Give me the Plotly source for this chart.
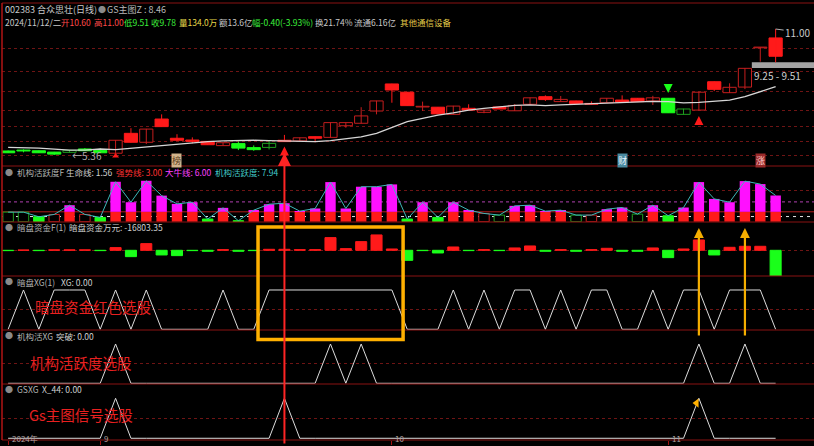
import plotly.graph_objects as go
from plotly.subplots import make_subplots

FONT = "Noto Sans CJK SC"

# ---- values: 002383 daily, 51 bars ----
bars = list(range(51))

opens = [5.54, 5.58, 5.55, 5.49, 5.48, 5.63, 5.57, 5.44, 6.33, 5.93,
         6.97, 6.11, 6.03, 5.97, 5.78, 5.87, 5.69, 5.70, 6.02, 5.99,
         6.18, 6.15, 6.67, 6.78, 7.33, 8.54, 8.17, 7.51, 7.50, 7.18,
         7.45, 7.27, 7.51, 7.34, 7.63, 7.97, 7.75, 7.78, 7.67, 7.70,
         7.82, 7.90, 7.78, 7.90, 7.18, 7.37, 8.64, 8.15, 8.40, 10.16,
         10.60]
highs = [5.56, 5.61, 5.56, 5.50, 5.58, 5.67, 5.66, 6.03, 6.56, 6.53,
         7.18, 6.29, 6.15, 5.98, 5.92, 5.96, 5.79, 5.99, 6.26, 6.14,
         6.19, 6.82, 6.82, 7.50, 7.79, 8.55, 8.18, 7.75, 7.51, 7.56,
         7.63, 7.38, 7.52, 7.64, 7.93, 8.03, 8.00, 7.79, 7.76, 7.91,
         8.03, 7.91, 8.01, 7.91, 7.43, 8.18, 8.65, 8.57, 9.25, 10.18,
         11.00]
lows = [5.45, 5.48, 5.45, 5.36, 5.47, 5.54, 5.45, 5.43, 5.92, 5.85,
        6.62, 5.99, 5.88, 5.81, 5.77, 5.58, 5.55, 5.61, 5.95, 5.98,
        5.93, 6.14, 6.58, 6.77, 7.18, 7.70, 7.56, 7.33, 7.19, 7.17,
        7.36, 7.23, 7.41, 7.33, 7.62, 7.78, 7.74, 7.65, 7.62, 7.69,
        7.71, 7.74, 7.60, 7.24, 7.17, 7.36, 8.22, 8.14, 8.31, 9.54,
        9.51]
closes = [5.46, 5.54, 5.46, 5.40, 5.57, 5.55, 5.46, 6.02, 5.93, 6.52,
          6.63, 6.02, 5.97, 5.82, 5.91, 5.67, 5.60, 5.88, 5.96, 6.13,
          6.11, 6.81, 6.81, 7.11, 7.78, 8.27, 7.57, 7.53, 7.20, 7.55,
          7.37, 7.37, 7.42, 7.58, 7.92, 7.84, 7.85, 7.66, 7.63, 7.90,
          7.72, 7.75, 7.92, 7.25, 7.42, 8.17, 8.30, 8.39, 9.24, 10.18,
          9.78]
# R red filled, r red hollow, G green filled, g green hollow
candle_style = ["G", "G", "G", "G", "g", "G", "G", "r", "R", "r",
                "R", "R", "R", "R", "r", "G", "G", "g", "R", "r",
                "R", "r", "r", "r", "r", "R", "R", "r", "R", "r",
                "R", "r", "R", "r", "r", "R", "r", "R", "R", "r",
                "R", "R", "r", "G", "g", "r", "R", "r", "r", "r",
                "R"]
trend_line = [5.70, 5.70, 5.67, 5.62, 5.58, 5.58, 5.63, 5.60, 5.66, 5.73,
              5.81, 5.87, 5.93, 5.96, 5.99, 6.02, 6.02, 6.00, 5.99, 5.97,
              5.96, 6.00, 6.08, 6.17, 6.33, 6.58, 6.85, 7.00, 7.15, 7.25,
              7.37, 7.45, 7.52, 7.58, 7.60, 7.57, 7.60, 7.63, 7.66, 7.70,
              7.72, 7.75, 7.76, 7.75, 7.69, 7.72, 7.78, 7.82, 7.97, 8.19,
              8.42]
price_grid = [5.36, 5.96, 6.63, 7.37, 8.19, 9.11, 10.13]

# 机构活跃度
activity = [2.9, 2.9, 1.5, 2.2, 5.0, 2.2, 1.3, 12.1, 5.9, 12.4,
            7.9, 5.4, 5.9, 0.8, 4.2, 0.3, 3.5, 5.3, 5.6, 3.2,
            4.0, 12.0, 4.0, 10.6, 10.6, 11.3, 0.8, 5.9, 1.3, 5.9,
            3.5, 2.5, 2.0, 4.8, 5.0, 3.2, 3.5, 2.0, 2.0, 3.8,
            4.3, 2.3, 5.0, 1.8, 4.3, 12.0, 6.9, 5.9, 12.3, 11.4,
            7.94]
# m strong (red+magenta), g green, go green hollow, ro red hollow
activity_style = ["go", "go", "g", "ro", "m", "ro", "g", "m", "m", "m",
                  "m", "m", "m", "g", "m", "g", "m", "m", "m", "m",
                  "m", "m", "m", "m", "m", "m", "g", "m", "g", "m",
                  "m", "ro", "go", "m", "m", "m", "m", "go", "ro", "m",
                  "m", "go", "m", "g", "m", "m", "m", "m", "m", "m",
                  "m"]
life_line, strong_line, bull_line = 1.56, 3.00, 6.00

# 暗盘资金 (万元)
dark_money = [-220, 220, -220, 330, 330, 330, -220, 1750, -4150, 4360,
              -3050, -3490, -220, -650, 440, -650, -220, 650, 650, 440,
              440, 8290, 1090, 5670, 10040, 870, -6550, -220, -1750, 2180,
              -220, 440, -220, 1530, 2840, -650, 440, -650, 440, 1310,
              -650, -650, 1530, -4800, 870, 6760, -3050, 1960, 2620, 2620,
              -16803.35]

dark_xg = [0, 1, 0, 1, 1, 1, 0, 1, 0, 1,
           0, 0, 0, 0, 1, 0, 0, 1, 1, 1,
           1, 1, 1, 1, 1, 1, 0, 0, 0, 1,
           0, 1, 0, 1, 1, 0, 1, 0, 1, 1,
           0, 0, 1, 0, 1, 1, 0, 1, 1, 1,
           0]
org_xg = [0, 0, 0, 0, 0, 0, 0, 1, 0, 0,
          0, 0, 0, 0, 0, 0, 0, 0, 0, 0,
          0, 1, 0, 1, 0, 0, 0, 0, 0, 0,
          0, 0, 0, 0, 0, 0, 0, 0, 0, 0,
          0, 0, 0, 0, 0, 1, 0, 0, 1, 0,
          0]
gs_xg = [0, 0, 0, 0, 0, 0, 0, 1, 0, 0,
         0, 0, 0, 0, 0, 0, 0, 0, 1, 0,
         0, 0, 0, 0, 0, 0, 0, 0, 0, 0,
         0, 0, 0, 0, 0, 0, 0, 0, 0, 0,
         0, 0, 0, 0, 0, 1, 0, 0, 0, 0,
         0]

month_ticks = [0, 6, 25, 43]
month_labels = ["2024年", "9", "10", "11"]

RED = "#ff1a1a"
RED_DARK = "#c41e1e"
GREEN = "#1aff1a"
GREEN_DARK = "#1e9e1e"
GRID = "#6e1414"
SEP = "#8a1212"


def px_x(x):
    # screen pixel -> paper x
    return (x - 2) / 812


def px_y(y):
    # screen pixel -> paper y
    return (440 - y) / 437


fig = make_subplots(rows=6, cols=1, shared_xaxes=True, vertical_spacing=0,
                    row_heights=[163, 56, 54, 54, 54, 56])

# ---- main chart: candles ----
styles = {"R": (RED, RED), "r": ("#000000", RED_DARK),
          "G": (GREEN, GREEN), "g": ("#000000", GREEN_DARK)}
for key, (fill, edge) in styles.items():
    idx = [i for i in bars if candle_style[i] == key]
    wx, wy = [], []
    for i in idx:
        wx += [i, i, None]
        wy += [lows[i], highs[i], None]
    fig.add_trace(go.Scatter(x=wx, y=wy, mode="lines", line=dict(color=edge, width=1),
                             hoverinfo="skip"), row=1, col=1)
for key, (fill, edge) in styles.items():
    idx = [i for i in bars if candle_style[i] == key]
    base = [min(opens[i], closes[i]) for i in idx]
    body = [max(abs(closes[i] - opens[i]), 0.03) for i in idx]
    fig.add_trace(go.Bar(x=idx, y=body, base=base, width=0.86,
                         marker=dict(color=fill, line=dict(color=edge, width=1))),
                  row=1, col=1)

fig.add_trace(go.Scatter(x=bars, y=trend_line, mode="lines",
                         line=dict(color="#d6d6d6", width=1.3)), row=1, col=1)

# signal marks on the candles
fig.add_trace(go.Scatter(x=[7], y=[5.32], mode="markers",
                         marker=dict(symbol="triangle-up", size=6, color=RED)), row=1, col=1)
fig.add_trace(go.Scatter(x=[18, 45], y=[5.74, 7.11], mode="markers",
                         marker=dict(symbol="arrow-up", size=9, color=RED)), row=1, col=1)
fig.add_trace(go.Scatter(x=[43], y=[8.14], mode="markers",
                         marker=dict(symbol="arrow-down", size=9, color=GREEN)), row=1, col=1)

# ---- 机构活跃度F ----
for key, fill, edge in [("go", "#000000", GREEN_DARK), ("ro", "#000000", RED_DARK),
                        ("g", GREEN, GREEN)]:
    idx = [i for i in bars if activity_style[i] == key]
    fig.add_trace(go.Bar(x=idx, y=[activity[i] for i in idx], width=0.68,
                         marker=dict(color=fill, line=dict(color=edge, width=1))),
                  row=2, col=1)
strong = [i for i in bars if activity_style[i] == "m"]
fig.add_trace(go.Bar(x=strong, y=[strong_line] * len(strong), width=0.68,
                     marker=dict(color=RED, line=dict(width=0))), row=2, col=1)
fig.add_trace(go.Bar(x=strong, y=[activity[i] - strong_line for i in strong],
                     base=[strong_line] * len(strong), width=0.68,
                     marker=dict(color="#ff10ff", line=dict(width=0))), row=2, col=1)
fig.add_trace(go.Scatter(x=bars, y=activity, mode="lines",
                         line=dict(color="#3cb8b8", width=1)), row=2, col=1)

# ---- 暗盘资金F ----
fig.add_trace(go.Bar(x=bars, y=dark_money, width=0.72,
                     marker=dict(color=[RED if v > 0 else GREEN for v in dark_money],
                                 line=dict(color=[RED if v > 0 else GREEN for v in dark_money],
                                           width=1))),
              row=3, col=1)

# ---- XG signal panels ----
for row, sig in [(4, dark_xg), (5, org_xg), (6, gs_xg)]:
    fig.add_trace(go.Scatter(x=bars, y=sig, mode="lines",
                             line=dict(color="#dcdcdc", width=1)), row=row, col=1)
fig.add_trace(go.Scatter(x=[44.85], y=[0.88], mode="markers",
                         marker=dict(symbol="triangle-left", size=8, color="#ffb000")),
              row=6, col=1)

# ---- shapes ----
shapes = []
for y in [3, 166, 222, 276, 330, 384, 440]:
    shapes.append(dict(type="line", xref="paper", yref="paper", x0=0, x1=1,
                       y0=px_y(y), y1=px_y(y), line=dict(color=SEP, width=1)))
shapes.append(dict(type="line", xref="paper", yref="paper", x0=0, x1=0, y0=0, y1=1,
                   line=dict(color="#b01414", width=1.5)))
shapes.append(dict(type="line", xref="paper", yref="y2", x0=0, x1=1,
                   y0=strong_line, y1=strong_line, layer="below",
                   line=dict(color="#b01c1c", width=1)))
shapes.append(dict(type="line", xref="paper", yref="y2", x0=0, x1=1,
                   y0=bull_line, y1=bull_line, layer="below",
                   line=dict(color="#b040b0", width=1, dash="dot")))
shapes.append(dict(type="line", xref="paper", yref="y2", x0=0, x1=1,
                   y0=life_line, y1=life_line, layer="below",
                   line=dict(color="#e6e6e6", width=1, dash="3px,4px")))
shapes.append(dict(type="rect", xref="x", yref="y", x0=48.45, x1=52.5, y0=9.25, y1=9.51,
                   fillcolor="#a4a4a4", line=dict(width=0), layer="below"))
shapes.append(dict(type="rect", xref="x", yref="paper", x0=16.28, x1=25.73,
                   y0=px_y(339.5), y1=px_y(227), line=dict(color="#ffb000", width=3.5)))

# ---- text ----
ann = []


def label(text, x, y, color, size=9):
    ann.append(dict(x=px_x(x), y=px_y(y), xref="paper", yref="paper", text=text,
                    showarrow=False, xanchor="left", yanchor="middle",
                    font=dict(family=FONT, size=size, color=color)))


label("002383 合众思壮(日线)", 3, 10, "#c8c8c8", 9)
label("●", 96, 10, "#8a8a8a", 8)
label("GS主图Z : 8.46", 105, 10, "#b8b8b8", 9)

header = [("2024/11/12/二", 3, "#c8c8c8"), ("开10.60", 59, "#ff4a4a"),
          ("高11.00", 92, "#ff4a4a"), ("低9.51", 122, "#3cf03c"),
          ("收9.78", 149, "#3cf03c"), ("量134.0万", 177, "#e8d84a"),
          ("额13.6亿", 217, "#c8c8c8"), ("幅-0.40(-3.93%)", 250, "#3cf03c"),
          ("换21.74%", 313, "#c8c8c8"), ("流通6.16亿", 352, "#c8c8c8"),
          ("其他通信设备", 398, "#e0c848")]
for text, x, color in header:
    label(text, x, 22, color, 8.5)

titles = [
    (172, [("机构活跃度F", 15, "#b4b4b4"), ("生命线: 1.56", 64, "#d0d0d0"),
           ("强势线: 3.00", 114, "#ff3030"), ("大牛线: 6.00", 163, "#ff40ff"),
           ("机构活跃度: 7.94", 213, "#40c8c8")]),
    (227.5, [("暗盘资金F(1)", 15, "#b4b4b4"), ("暗盘资金万元: -16803.35", 67, "#d0d0d0")]),
    (281.7, [("暗盘XG(1)", 15, "#b4b4b4"), ("XG: 0.00", 59, "#d0d0d0")]),
    (335.7, [("机构活XG", 15, "#b4b4b4"), ("突破: 0.00", 54, "#d0d0d0")]),
    (389.3, [("GSXG", 15, "#b4b4b4"), ("X_44: 0.00", 40, "#d0d0d0")]),
]
for y, parts in titles:
    label("●", 3, y, "#8a8a8a", 8)
    for text, x, color in parts:
        label(text, x, y, color, 8.5)

label("暗盘资金红色选股", 33, 306, "#e82020", 14.5)
label("机构活跃度选股", 28, 362, "#e82020", 14.5)
label("Gs主图信号选股", 27, 414, "#e82020", 14.5)

# month labels along the bottom edge
for i, text in zip(month_ticks, month_labels):
    ann.append(dict(x=i + 0.1, y=-6 / 437, xref="x", yref="paper", text=text,
                    showarrow=False, xanchor="left", yanchor="bottom",
                    font=dict(family=FONT, size=8, color="#b0a0a0")))

# price notes on the main chart
ann.append(dict(x=4.0, y=5.32, xref="x", yref="y", text="←5.36", showarrow=False,
                xanchor="left", font=dict(family=FONT, size=10, color="#b0b0b0")))
ann.append(dict(x=48.46, y=8.94, xref="x", yref="y", text="9.25 - 9.51", showarrow=False,
                xanchor="left", font=dict(family=FONT, size=10, color="#d0d0d0")))
ann.append(dict(x=50, y=11.0, xref="x", yref="y", text="11.00", showarrow=True,
                arrowhead=0, arrowwidth=1, arrowcolor="#b0b0b0", ax=22, ay=3,
                font=dict(family=FONT, size=10, color="#c8c8c8")))

for text, i, bg, fg in [("榜", 11, "#d2b48c", "#5a3a1a"), ("财", 40, "#4a8aa0", "#e8f4ff"),
                        ("涨", 49, "#9a2a2a", "#ffc8c8")]:
    ann.append(dict(x=i, y=px_y(161), xref="x", yref="paper", text=text, showarrow=False,
                    bgcolor=bg, borderpad=0,
                    font=dict(family=FONT, size=9, color=fg)))

# arrows drawn over the panels
ann.append(dict(x=18, y=px_y(153), xref="x", yref="paper", text="", showarrow=True,
                ax=0, ay=292, arrowhead=2, arrowsize=1.3, arrowwidth=2,
                arrowcolor="#ff2424"))
for i in [45, 48]:
    ann.append(dict(x=i, y=px_y(228), xref="x", yref="paper", text="", showarrow=True,
                    ax=0, ay=109, arrowhead=2, arrowsize=0.9, arrowwidth=2.2,
                    arrowcolor="#f5ae00"))

fig.update_layout(
    width=814, height=446,
    margin=dict(l=2, r=0, t=3, b=6),
    paper_bgcolor="#000000", plot_bgcolor="#000000",
    barmode="overlay", showlegend=False,
    shapes=shapes, annotations=ann,
)
fig.update_xaxes(range=[-0.4, 52.5], showgrid=False, zeroline=False,
                 showticklabels=False, showline=False, ticks="")
fig.update_xaxes(row=6, col=1, ticks="outside", ticklen=4, tickcolor="#a01010",
                 tickvals=month_ticks)
fig.update_yaxes(showticklabels=False, zeroline=False, showgrid=True,
                 griddash="dot", gridcolor=GRID, gridwidth=1, showline=False)
fig.update_yaxes(row=1, col=1, range=[4.868, 12.164], tickvals=price_grid)
fig.update_yaxes(row=2, col=1, range=[-0.09, 16.88], tickvals=[9.6])
fig.update_yaxes(row=3, col=1, range=[-16803.35, 18503], tickvals=[0])
fig.update_yaxes(row=4, col=1, range=[-0.018, 1.356], tickvals=[0.5])
fig.update_yaxes(row=5, col=1, range=[-0.018, 1.356], tickvals=[0.5])
fig.update_yaxes(row=6, col=1, range=[-0.043, 1.357], tickvals=[0.5])

fig.write_html("out.html", config={"displayModeBar": False},
               post_script="document.body.style.margin='0px';")
